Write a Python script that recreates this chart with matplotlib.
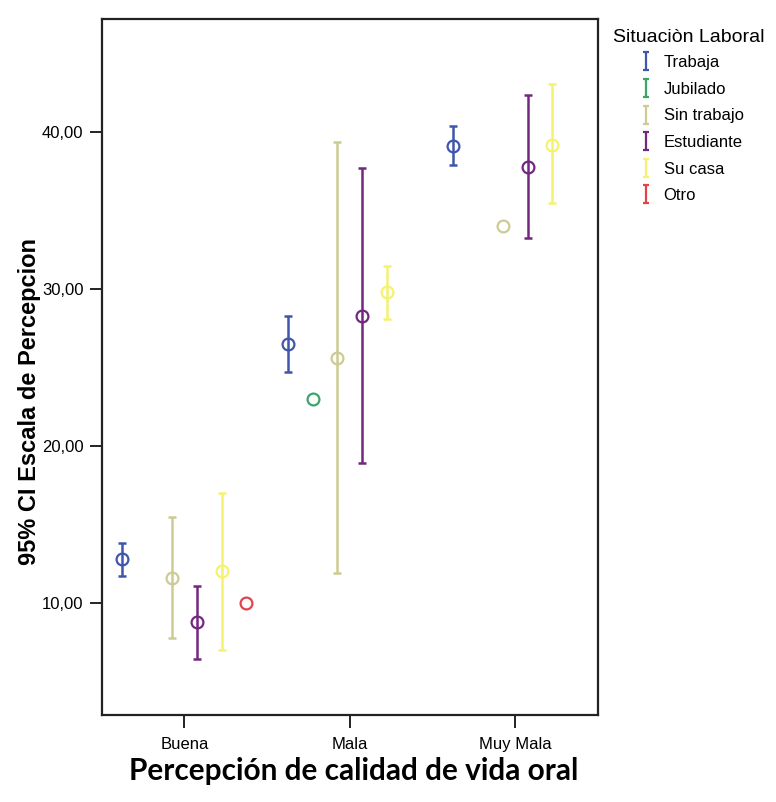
#!/usr/bin/env python3
"""Clustered 95% CI error bars: perception scale by oral quality-of-life rating and work status."""

import matplotlib

matplotlib.use("Agg")
import matplotlib.pyplot as plt
import numpy as np
from matplotlib.lines import Line2D
from matplotlib.path import Path

nan = np.nan

CATEGORIES = ["Buena", "Mala", "Muy Mala"]
STATUS = ["Trabaja", "Jubilado", "Sin trabajo", "Estudiante", "Su casa", "Otro"]

# mean, lower and upper 95% CI limit for each status, one value per category
TRABAJA_MEAN = [12.8, 26.5, 39.1]
TRABAJA_LOW = [11.7, 24.7, 37.9]
TRABAJA_HIGH = [13.8, 28.3, 40.4]

JUBILADO_MEAN = [nan, 23.0, nan]
JUBILADO_LOW = [nan, nan, nan]
JUBILADO_HIGH = [nan, nan, nan]

SIN_TRABAJO_MEAN = [11.6, 25.6, 34.0]
SIN_TRABAJO_LOW = [7.75, 11.9, nan]
SIN_TRABAJO_HIGH = [15.5, 39.35, nan]

ESTUDIANTE_MEAN = [8.8, 28.3, 37.8]
ESTUDIANTE_LOW = [6.4, 18.9, 33.25]
ESTUDIANTE_HIGH = [11.1, 37.7, 42.4]

SU_CASA_MEAN = [12.0, 29.8, 39.2]
SU_CASA_LOW = [7.0, 28.1, 35.5]
SU_CASA_HIGH = [17.0, 31.45, 43.1]

OTRO_MEAN = [10.0, nan, nan]
OTRO_LOW = [nan, nan, nan]
OTRO_HIGH = [nan, nan, nan]

Y_TICKS = [10, 20, 30, 40]

SERIES = [
    (TRABAJA_MEAN, TRABAJA_LOW, TRABAJA_HIGH, "#4056ab"),
    (JUBILADO_MEAN, JUBILADO_LOW, JUBILADO_HIGH, "#3aa565"),
    (SIN_TRABAJO_MEAN, SIN_TRABAJO_LOW, SIN_TRABAJO_HIGH, "#cdca94"),
    (ESTUDIANTE_MEAN, ESTUDIANTE_LOW, ESTUDIANTE_HIGH, "#72287e"),
    (SU_CASA_MEAN, SU_CASA_LOW, SU_CASA_HIGH, "#f5f270"),
    (OTRO_MEAN, OTRO_LOW, OTRO_HIGH, "#e0444b"),
]

plt.rcParams["font.family"] = ["Liberation Sans", "DejaVu Sans"]

fig = plt.figure(figsize=(7.76, 8.02), dpi=100)
ax = fig.add_axes([0.131, 0.1085, 0.6396, 0.8675])

x_base = np.arange(len(CATEGORIES))
step = 0.15
n = len(SERIES)

for i, (mean, low, high, color) in enumerate(SERIES):
    x = x_base + (i - (n - 1) / 2) * step
    mean = np.asarray(mean, dtype=float)
    low = np.asarray(low, dtype=float)
    high = np.asarray(high, dtype=float)
    has_ci = ~np.isnan(low)
    if has_ci.any():
        ax.errorbar(
            x[has_ci],
            mean[has_ci],
            yerr=[mean[has_ci] - low[has_ci], high[has_ci] - mean[has_ci]],
            fmt="none",
            ecolor=color,
            elinewidth=1.8,
            capsize=2.8,
            capthick=1.8,
            zorder=2,
        )
    ax.plot(
        x,
        mean,
        linestyle="none",
        marker="o",
        markersize=8.5,
        markerfacecolor="none",
        markeredgecolor=color,
        markeredgewidth=1.6,
        zorder=3,
    )

ax.set_xlim(-0.5, 2.5)
ax.set_ylim(2.85, 47.2)
ax.set_xticks(x_base)
ax.set_xticklabels(CATEGORIES, fontsize=12)
ax.set_yticks(Y_TICKS)
ax.set_yticklabels([f"{v:.2f}".replace(".", ",") for v in Y_TICKS], fontsize=12)
ax.tick_params(axis="both", length=9, width=1.4, color="#222222")
ax.tick_params(axis="x", pad=7)
ax.tick_params(axis="y", pad=4)
for spine in ax.spines.values():
    spine.set_linewidth(1.6)
    spine.set_color("#222222")

ax.set_ylabel("95% CI Escala de Percepcion", fontsize=17, fontweight="bold")
ax.yaxis.set_label_coords(-0.1224, 0.451)
fig.text(
    0.4555,
    0.0387,
    "Percepción de calidad de vida oral",
    ha="center",
    va="center",
    fontsize=21.4,
    fontweight="bold",
    family=["Lato", "DejaVu Sans"],
)

# legend: title on its own, I-beam keys indented below it
fig.text(613 / 776, 1 - 37 / 802, "Situaciòn Laboral", fontsize=14, ha="left", va="center")
ibeam = Path(
    [(-0.3, 1), (0.3, 1), (0, 1), (0, -1), (-0.3, -1), (0.3, -1)],
    [Path.MOVETO, Path.LINETO, Path.MOVETO, Path.LINETO, Path.MOVETO, Path.LINETO],
)
handles = [
    Line2D([], [], linestyle="none", marker=ibeam, markersize=13.5,
           markerfacecolor="none", markeredgecolor=color, markeredgewidth=1.6)
    for _, _, _, color in SERIES
]
fig.legend(
    handles,
    STATUS,
    loc="upper left",
    bbox_to_anchor=(641 / 776, 1 - 55 / 802),
    frameon=False,
    fontsize=12,
    handlelength=0.6,
    handletextpad=0.75,
    labelspacing=0.70,
    borderpad=0,
    borderaxespad=0,
)

fig.savefig("out.png", dpi=100)
